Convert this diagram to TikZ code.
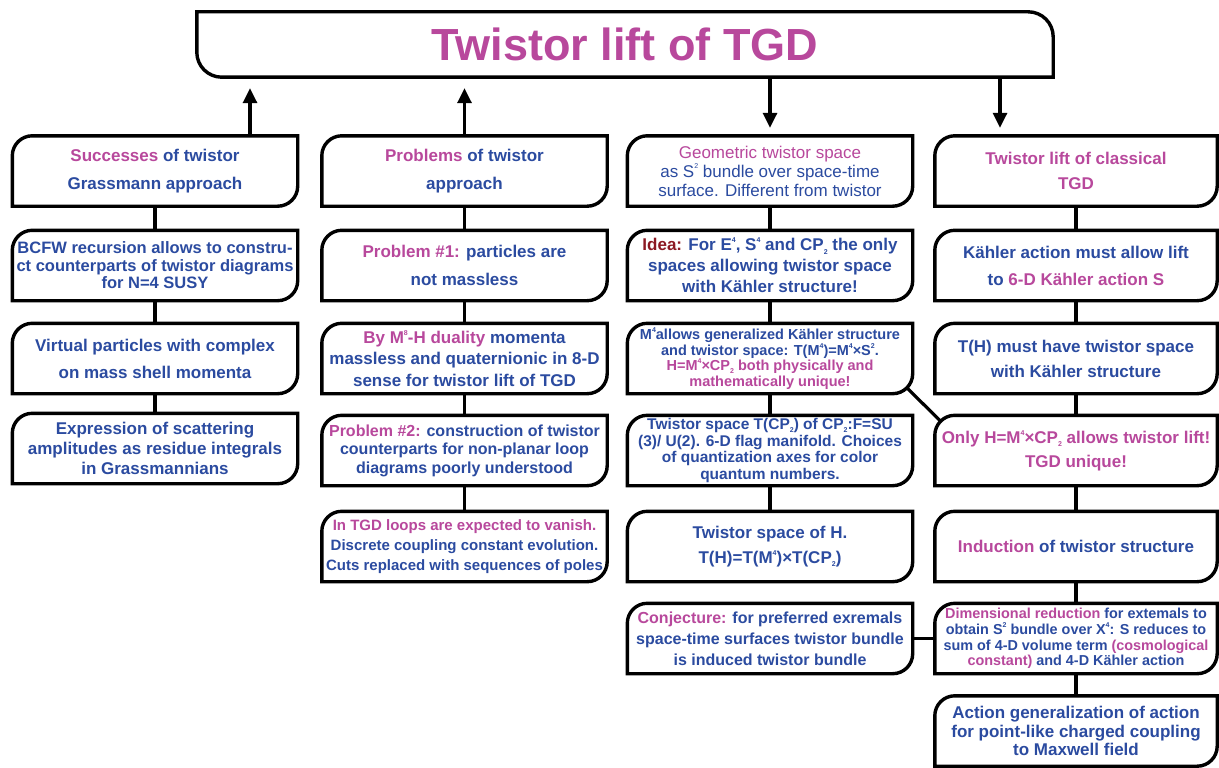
\documentclass[tikz,border=0pt]{standalone}
\usepackage{fontspec}
\setmainfont{Liberation Sans}
\usepackage{xcolor}
\usepackage{tikz}
\usetikzlibrary{arrows.meta}

\definecolor{tblue}{RGB}{43,75,160}
\definecolor{tpink}{RGB}{184,72,156}
\definecolor{tred}{RGB}{140,25,35}
\newcommand{\fs}[2]{\fontsize{#1}{#2}\selectfont}
\newcommand{\sps}[1]{\raisebox{0.9ex}{\scriptsize #1}}
\newcommand{\sbs}[1]{\raisebox{-0.4ex}{\scriptsize #1}}

\begin{document}
\begin{tikzpicture}[x=1pt,y=-1pt,
  tbox/.style={minimum width=285pt,minimum height=70pt,inner sep=0pt,align=center,
    text=tblue,font=\bfseries\fs{17}{21}},
  frame/.style={line width=3.4pt},
  link/.style={line width=3.2pt},
  arr/.style={line width=3.2pt,-{Triangle[length=15pt,width=14pt]}}]
% Page
\fill[white] (0,0) rectangle (1219,768);
\useasboundingbox (0,0) rectangle (1219,768);

% Title
\node[minimum width=856pt,minimum height=65pt,inner sep=0pt,text=tpink,
  font=\bfseries\fs{45}{50}] (t) at (625,44.5) {Twistor lift of TGD};
\draw[frame] (t.north) -- (t.north west) [rounded corners=25pt] -- (t.south west)
  [sharp corners] -- (t.south east) [rounded corners=25pt] -- (t.north east)
  [sharp corners] -- cycle;

% Successes column
\node[tbox,font=\bfseries\fs{17}{28}] (s1) at (155,171) {{\color{tpink}Successes} of twistor\\Grassmann approach};
\node[tbox,font=\bfseries\fs{16.5}{17.5}] (s2) at (155,265.5) {BCFW recursion allows to constru-\\ct counterparts of twistor diagrams\\for N=4 SUSY};
\node[tbox,font=\bfseries\fs{17}{27}] (s3) at (155,358.5) {Virtual particles with complex\\on mass shell momenta};
\node[tbox,font=\bfseries\fs{17}{20}] (s4) at (155,448.5) {Expression of scattering\\amplitudes as residue integrals\\in Grassmannians};

% Problems column
\node[tbox,font=\bfseries\fs{17}{28}] (p1) at (464.5,171) {{\color{tpink}Problems} of twistor\\approach};
\node[tbox,font=\bfseries\fs{17}{28}] (p2) at (464.5,265.5) {{\color{tpink}Problem \#1:} particles are\\not massless};
\node[tbox,font=\bfseries\fs{17}{21.5}] (p3) at (464.5,358.5) {{\color{tpink}By M\sps{8}-H duality} momenta\\massless and quaternionic in 8-D\\sense for twistor lift of TGD};
\node[tbox,font=\bfseries\fs{16}{18.5}] (p4) at (464.5,450.5) {{\color{tpink}Problem \#2:} construction of twistor\\counterparts for non-planar loop\\diagrams poorly understood};
\node[tbox,font=\bfseries\fs{15}{20}] (p5) at (464.5,546.5) {{\color{tpink}In TGD loops are expected to vanish.}\\Discrete coupling constant evolution.\\Cuts replaced with sequences of poles};

% Geometric twistor space column
\node[tbox,font=\fs{17}{19}] (g1) at (770,171) {{\color{tpink}Geometric twistor space}\\as S\sps{2} bundle over space-time\\surface. Different from twistor};
\node[tbox,font=\bfseries\fs{17}{21}] (g2) at (770,265.5) {{\color{tred}Idea:} For E\sps{4}, S\sps{4} and CP\sbs{2} the only\\spaces allowing twistor space\\with Kähler structure!};
\node[tbox,font=\bfseries\fs{14.5}{15.5}] (g3) at (770,358.5) {M\sps{4}allows generalized Kähler structure\\and twistor space: T(M\sps{4})=M\sps{4}×S\sps{2}.\\{\color{tpink}H=M\sps{4}×CP\sbs{2} both physically and}\\{\color{tpink}mathematically unique!}};
\node[tbox,font=\bfseries\fs{15.5}{16.7}] (g4) at (770,450.5) {Twistor space T(CP\sbs{2}) of CP\sbs{2}:F=SU\\(3)/ U(2). 6-D flag manifold. Choices\\of quantization axes for color\\quantum numbers.};
\node[tbox,font=\bfseries\fs{17}{25}] (g5) at (770,546.5) {Twistor space of H.\\T(H)=T(M\sps{4})×T(CP\sbs{2})};
\node[tbox,font=\bfseries\fs{16}{21}] (g6) at (770,638.5) {{\color{tpink}Conjecture:} for preferred exremals\\space-time surfaces twistor bundle\\is induced twistor bundle};

% Classical TGD column
\node[tbox,minimum width=282pt,font=\bfseries\fs{17}{25}] (k1) at (1076,171) {{\color{tpink}Twistor lift of classical}\\{\color{tpink}TGD}};
\node[tbox,minimum width=282pt,font=\bfseries\fs{17}{27}] (k2) at (1076,265.5) {Kähler action must allow lift\\to {\color{tpink}6-D Kähler action S}};
\node[tbox,minimum width=282pt,font=\bfseries\fs{17}{25}] (k3) at (1076,358.5) {T(H) must have twistor space\\with Kähler structure};
\node[tbox,minimum width=282pt,font=\bfseries\fs{17}{24}] (k4) at (1076,450.5) {{\color{tpink}Only H=M\sps{4}×CP\sbs{2} allows twistor lift!}\\{\color{tpink}TGD unique!}};
\node[tbox,minimum width=282pt] (k5) at (1076,546.5) {{\color{tpink}Induction} of twistor structure};
\node[tbox,minimum width=282pt,font=\bfseries\fs{14.4}{15.7}] (k6) at (1076,638.5) {{\color{tpink}Dimensional reduction} for extemals to\\obtain S\sps{2} bundle over X\sps{4}: S reduces to\\sum of 4-D volume term {\color{tpink}(cosmological}\\{\color{tpink}constant)} and 4-D Kähler action};
\node[tbox,minimum width=282pt,font=\bfseries\fs{17}{18.5}] (k7) at (1076,731) {Action generalization of action\\for point-like charged coupling\\to Maxwell field};

% Box outlines
\foreach \n in {s1,s2,s3,s4,p1,p2,p3,p4,p5,g1,g2,g3,g4,g5,g6,k1,k2,k3,k4,k5,k6,k7}
  \draw[frame] (\n.north) [rounded corners=20pt] -- (\n.north west) [sharp corners] -- (\n.south west)
    [rounded corners=20pt] -- (\n.south east) [sharp corners] -- (\n.north east) -- cycle;

% Links inside the columns
\foreach \a/\b in {s1/s2,s2/s3,s3/s4,p1/p2,p2/p3,p3/p4,p4/p5,g1/g2,g2/g3,g3/g4,g4/g5,
  k1/k2,k2/k3,k3/k4,k4/k5,k5/k6,k6/k7}
  \draw[link] (\a.south) -- (\b.north);
\draw[link] ([shift={(-6pt,6pt)}]g3.south east) -- ([shift={(6pt,-6pt)}]k4.north west);
\draw[link] (g6.east) -- (k6.west);

% Arrows to and from the title
\draw[arr,shorten >=11pt] ([xshift=95pt]s1.north) -- ([xshift=95pt]s1.north |- t.south);
\draw[arr,shorten >=11pt] (p1.north) -- (p1.north |- t.south);
\draw[arr,shorten >=8pt] (g1.north |- t.south) -- (g1.north);
\draw[arr,shorten >=8pt] ([xshift=-76pt]k1.north |- t.south) -- ([xshift=-76pt]k1.north);
\end{tikzpicture}
\end{document}
